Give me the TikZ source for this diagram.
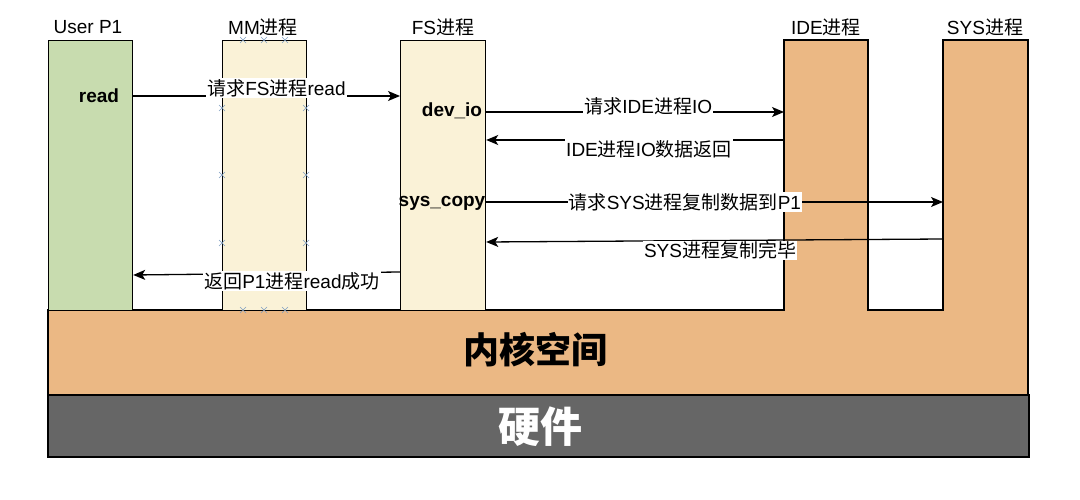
\documentclass[tikz,border=0pt]{standalone}
\usepackage{fontspec}
\setmainfont{Liberation Sans}
\newfontfamily\cjk{Noto Sans CJK SC}
\usepackage{xcolor}
\usepackage{tikz}
\usetikzlibrary{arrows.meta}

\definecolor{usrgreen}{HTML}{C8DCAF}
\definecolor{mmyellow}{HTML}{FAF2D7}
\definecolor{kerorange}{HTML}{EBB884}
\definecolor{hwgray}{HTML}{666666}
\definecolor{hdlblue}{HTML}{7F9EC2}

\newcommand{\zh}[1]{{\cjk #1}}

\tikzset{
    col/.style={draw=black, line width=1.2pt, inner sep=0pt, anchor=north west, minimum height=270pt},
    hdr/.style={font=\fontsize{19}{22}\selectfont},
    fname/.style={font=\fontsize{19}{22}\selectfont\bfseries},
    lbl/.style={font=\fontsize{19}{22}\selectfont, fill=white, inner sep=1pt},
    flow/.style={line width=1.3pt, -{Stealth[length=12pt,width=10pt,inset=3pt]}},
    hdl/.style={draw=hdlblue, line width=0.7pt}
}

\begin{document}
\begin{tikzpicture}
                \tikzset{x={(1pt, 0pt)}, y={(0pt, -1pt)}}
                \useasboundingbox (0, 0) rectangle (1080, 500);
                % kernel space together with the IDE and SYS columns
                \draw[fill=kerorange, line width=1.2pt] (48, 310) -- (784, 310) -- (784, 40) -- (868, 40) -- (868, 310)
                    -- (943, 310) -- (943, 40) -- (1028, 40) -- (1028, 395) -- (48, 395) -- cycle;
                \node at (535, 350) {\fontsize{36}{40}\selectfont\bfseries\zh{内核空间}};
                \node[inner sep=0pt, anchor=north west, minimum width=84pt, minimum height=270pt] (ide) at (784, 40) {};
                \node[inner sep=0pt, anchor=north west, minimum width=85pt, minimum height=270pt] (sys) at (943, 40) {};
                % hardware
                \draw[fill=hwgray, line width=1.2pt] (48, 395) rectangle (1029, 457);
                \node[text=white] at (540, 427) {\fontsize{42}{46}\selectfont\bfseries\zh{硬件}};
                % user space columns
                \node[col, fill=usrgreen, minimum width=84pt] (usr) at (48, 40) {};
                \node[col, fill=mmyellow, minimum width=84pt] (mm) at (222, 40) {};
                \node[col, fill=mmyellow, minimum width=85pt] (fs) at (400, 40) {};
                % column titles
                \node[hdr] (usrhdr) at (88, 27) {User P1};
                \node[hdr] (mmhdr) at (263, 27) {MM\zh{进程}};
                \node[hdr] (fshdr) at (443, 27) {FS\zh{进程}};
                \node[hdr] (idehdr) at (826, 27) {IDE\zh{进程}};
                \node[hdr] (syshdr) at (985, 27) {SYS\zh{进程}};
                % function names
                \node[fname] (rd) at (99, 96) {read};
                \node[fname] (io) at (452, 111) {dev\_io};
                \node[fname] (cp) at (442, 203) {sys\_copy};
                % messages
                \draw[flow] (usr.east |- rd) -- (fs.west |- rd) node[lbl, pos=0.537, yshift=8pt] {\zh{请求}FS\zh{进程}read};
                \draw[flow] (fs.east |- 0, 112) -- (ide.west |- 0, 112) node[lbl, pos=0.544, yshift=6pt] {\zh{请求}IDE\zh{进程}IO};
                \draw[flow] (ide.west |- 0, 140) -- (fs.east |- 0, 140) node[lbl, pos=0.453, yshift=-9pt] {IDE\zh{进程}IO\zh{数据返回}};
                \draw[flow] (fs.east |- 0, 202) -- (sys.west |- 0, 202) node[lbl, pos=0.435] {\zh{请求}SYS\zh{进程复制数据到}P1};
                \draw[flow] (sys.west |- 0, 239) -- (fs.east |- 0, 242) node[lbl, pos=0.488, yshift=-10pt] {SYS\zh{进程复制完毕}};
                \draw[flow] (fs.west |- 0, 272) -- (usr.east |- 0, 275) node[lbl, pos=0.405, yshift=-8pt] {\zh{返回}P1\zh{进程}read\zh{成功}};
                % selection handles on the MM column
                \foreach \mx in {243, 264, 285} {
                    \draw[hdl] (\mx, 40) +(-3, -3) -- +(3, 3) +(-3, 3) -- +(3, -3);
                    \draw[hdl] (\mx, 310) +(-3, -3) -- +(3, 3) +(-3, 3) -- +(3, -3);
                }
                \foreach \my in {108, 175, 243} {
                    \draw[hdl] (222, \my) +(-3, -3) -- +(3, 3) +(-3, 3) -- +(3, -3);
                    \draw[hdl] (306, \my) +(-3, -3) -- +(3, 3) +(-3, 3) -- +(3, -3);
                }
            \end{tikzpicture}
\end{document}
